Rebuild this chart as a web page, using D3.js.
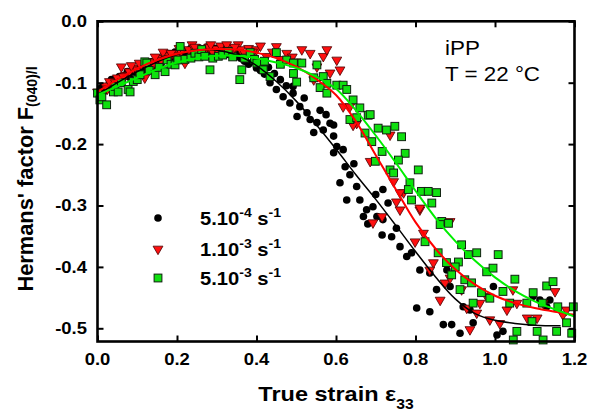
<!DOCTYPE html>
<html><head><meta charset="utf-8">
<script src="https://cdn.jsdelivr.net/npm/d3@7"></script>
<style>body{margin:0;background:#fff}</style>
</head><body><svg id="c" width="589" height="412"></svg>
<script>
// ---------- data ----------
const xTicks = [0, 0.2, 0.4, 0.6, 0.8, 1.0, 1.2];
const yTicks = [0, -0.1, -0.2, -0.3, -0.4, -0.5];
const legendMant = ["5.10", "1.10", "5.10"];
const legendExp = ["-4", "-3", "-3"];

const black = [[0.00,-0.118],[0.01,-0.108],[0.02,-0.112],[0.03,-0.100],[0.04,-0.104],[0.05,-0.094],[0.06,-0.098],[0.07,-0.088],[0.08,-0.091],[0.09,-0.082],[0.10,-0.085],[0.11,-0.077],[0.12,-0.08],[0.13,-0.071],[0.14,-0.074],[0.15,-0.066],[0.16,-0.069],[0.17,-0.061],[0.18,-0.058],[0.19,-0.064],[0.20,-0.055],[0.21,-0.052],[0.22,-0.057],[0.23,-0.05],[0.24,-0.047],[0.25,-0.053],[0.26,-0.045],[0.27,-0.05],[0.28,-0.046],[0.29,-0.052],[0.30,-0.048],[0.31,-0.051],[0.32,-0.046],[0.33,-0.054],[0.34,-0.05],[0.35,-0.057],[0.36,-0.06],[0.37,-0.065],[0.38,-0.07],[0.39,-0.066],[0.40,-0.076],[0.41,-0.08],[0.42,-0.086],[0.434,-0.1],[0.45,-0.111],[0.467,-0.123],[0.492,-0.117],[0.484,-0.133],[0.509,-0.139],[0.527,-0.149],[0.502,-0.155],[0.535,-0.16],[0.552,-0.165],[0.568,-0.177],[0.585,-0.166],[0.594,-0.187],[0.544,-0.181],[0.602,-0.204],[0.492,-0.106],[0.594,-0.169],[0.594,-0.214],[0.618,-0.209],[0.623,-0.237],[0.635,-0.25],[0.61,-0.263],[0.652,-0.269],[0.627,-0.291],[0.66,-0.291],[0.677,-0.307],[0.693,-0.302],[0.669,-0.318],[0.703,-0.318],[0.731,-0.296],[0.718,-0.323],[0.752,-0.337],[0.68,-0.33],[0.716,-0.348],[0.74,-0.351],[0.761,-0.367],[0.778,-0.383],[0.79,-0.377],[0.811,-0.405],[0.836,-0.41],[0.853,-0.437],[0.718,-0.274],[0.879,-0.405],[0.887,-0.432],[0.92,-0.465],[0.937,-0.47],[0.996,-0.432],[1.096,-0.448],[1.113,-0.454],[1.13,-0.465],[1.138,-0.454],[0.803,-0.467],[0.836,-0.473],[0.87,-0.494],[0.891,-0.494],[0.945,-0.491],[0.912,-0.508],[1.005,-0.511],[1.02,-0.505],
  [0.015,-0.115],[0.035,-0.095],[0.055,-0.09],[0.075,-0.082],[0.095,-0.078],[0.115,-0.072],[0.135,-0.066],[0.155,-0.06],[0.175,-0.055],[0.195,-0.05],[0.215,-0.048],[0.235,-0.044],[0.255,-0.043],[0.275,-0.042],[0.295,-0.044],[0.315,-0.043],[0.335,-0.046],[0.355,-0.05],[0.375,-0.055],[0.395,-0.06],[0.415,-0.068],[0.43,-0.075],[0.445,-0.085],[0.46,-0.095],[0.475,-0.105],[0.52,-0.125],[0.56,-0.145],[0.575,-0.152],[0.645,-0.232],[0.7,-0.282]];

const red = [[0.00,-0.115],[0.01,-0.12],[0.02,-0.105],[0.03,-0.098],[0.04,-0.108],[0.05,-0.092],[0.06,-0.074],[0.07,-0.088],[0.08,-0.082],[0.09,-0.076],[0.10,-0.079],[0.11,-0.07],[0.119,-0.092],[0.13,-0.066],[0.14,-0.07],[0.15,-0.06],[0.16,-0.064],[0.17,-0.056],[0.18,-0.06],[0.19,-0.052],[0.20,-0.055],[0.21,-0.049],[0.22,-0.068],[0.23,-0.046],[0.238,-0.038],[0.25,-0.05],[0.26,-0.044],[0.27,-0.048],[0.28,-0.042],[0.29,-0.05],[0.30,-0.045],[0.31,-0.04],[0.32,-0.048],[0.33,-0.043],[0.34,-0.05],[0.354,-0.038],[0.36,-0.046],[0.37,-0.052],[0.38,-0.044],[0.40,-0.046],[0.425,-0.057],[0.45,-0.041],[0.476,-0.052],[0.514,-0.046],[0.535,-0.052],[0.552,-0.074],[0.568,-0.057],[0.577,-0.046],[0.585,-0.084],[0.602,-0.063],[0.61,-0.079],[0.544,-0.095],[0.618,-0.139],[0.635,-0.139],[0.652,-0.166],[0.643,-0.169],[0.736,-0.185],[0.686,-0.228],[0.745,-0.261],[0.77,-0.279],[0.752,-0.294],[0.761,-0.307],[0.811,-0.307],[0.716,-0.318],[0.693,-0.328],[0.887,-0.326],[0.799,-0.359],[0.82,-0.345],[0.845,-0.393],[0.836,-0.405],[0.874,-0.426],[0.862,-0.454],[0.887,-0.418],[0.916,-0.437],[0.929,-0.467],[0.954,-0.475],[0.937,-0.502],[0.962,-0.459],[0.979,-0.448],[0.987,-0.486],[1.012,-0.492],[1.03,-0.47],[1.045,-0.437],[1.055,-0.459],[1.081,-0.483],[1.106,-0.483],[1.121,-0.459],[1.151,-0.44],[1.171,-0.478],[1.18,-0.47],[0.761,-0.279],[0.811,-0.304],
  [0.025,-0.11],[0.045,-0.1],[0.065,-0.09],[0.085,-0.072],[0.105,-0.068],[0.125,-0.075],[0.145,-0.058],[0.165,-0.05],[0.185,-0.052],[0.205,-0.044],[0.245,-0.042],[0.265,-0.052],[0.285,-0.038],[0.305,-0.05],[0.325,-0.038],[0.345,-0.042],[0.39,-0.05],[0.41,-0.04],[0.44,-0.05],[0.46,-0.062],[0.49,-0.058],[0.5,-0.066]];

const green = [[0.00,-0.117],[0.006,-0.128],[0.011,-0.123],[0.023,-0.136],[0.04,-0.115],[0.044,-0.106],[0.052,-0.115],[0.06,-0.1],[0.077,-0.111],[0.082,-0.115],[0.09,-0.098],[0.1,-0.095],[0.107,-0.087],[0.119,-0.066],[0.124,-0.068],[0.13,-0.08],[0.145,-0.087],[0.155,-0.075],[0.17,-0.082],[0.175,-0.063],[0.185,-0.07],[0.195,-0.071],[0.202,-0.063],[0.208,-0.041],[0.22,-0.062],[0.235,-0.06],[0.245,-0.052],[0.255,-0.058],[0.262,-0.046],[0.27,-0.057],[0.283,-0.079],[0.29,-0.06],[0.304,-0.057],[0.315,-0.055],[0.329,-0.049],[0.34,-0.058],[0.358,-0.095],[0.363,-0.079],[0.37,-0.06],[0.384,-0.051],[0.395,-0.062],[0.401,-0.068],[0.417,-0.079],[0.42,-0.065],[0.434,-0.09],[0.45,-0.051],[0.46,-0.07],[0.476,-0.063],[0.493,-0.068],[0.514,-0.068],[0.493,-0.085],[0.552,-0.071],[0.501,-0.099],[0.544,-0.092],[0.568,-0.09],[0.577,-0.101],[0.56,-0.108],[0.602,-0.104],[0.618,-0.104],[0.627,-0.111],[0.577,-0.117],[0.643,-0.128],[0.66,-0.141],[0.681,-0.153],[0.635,-0.16],[0.652,-0.157],[0.706,-0.174],[0.727,-0.177],[0.748,-0.171],[0.765,-0.188],[0.673,-0.182],[0.686,-0.152],[0.69,-0.196],[0.716,-0.212],[0.774,-0.215],[0.757,-0.226],[0.699,-0.228],[0.807,-0.242],[0.736,-0.242],[0.745,-0.247],[0.786,-0.263],[0.782,-0.274],[0.815,-0.277],[0.832,-0.277],[0.853,-0.279],[0.79,-0.291],[0.841,-0.296],[0.866,-0.326],[0.883,-0.329],[0.862,-0.331],[0.824,-0.359],[0.916,-0.364],[0.933,-0.38],[0.954,-0.377],[1.008,-0.38],[0.857,-0.377],[0.878,-0.393],[0.908,-0.392],[0.9,-0.4],[0.979,-0.408],[0.995,-0.402],[0.891,-0.413],[0.924,-0.421],[1.05,-0.42],[0.912,-0.437],[0.941,-0.426],[0.987,-0.451],[1.02,-0.44],[1.037,-0.459],[1.096,-0.442],[1.119,-0.459],[1.13,-0.431],[1.146,-0.424],[1.158,-0.465],[1.197,-0.465],[1.093,-0.489],[1.18,-0.491],[1.055,-0.505],[1.046,-0.519],[1.106,-0.505],[1.121,-0.519],[1.155,-0.505],[1.193,-0.508],[0.966,-0.442],[0.945,-0.459],[1.08,-0.459]];

const fitBlack = [[0,-0.12],[0.05,-0.1],[0.1,-0.082],[0.15,-0.066],[0.2,-0.054],[0.25,-0.047],[0.3,-0.047],[0.35,-0.055],[0.4,-0.072],[0.45,-0.098],[0.5,-0.13],[0.55,-0.168],[0.6,-0.208],[0.65,-0.25],[0.7,-0.29],[0.75,-0.332],[0.8,-0.375],[0.85,-0.416],[0.9,-0.452],[0.95,-0.476],[1.0,-0.487],[1.05,-0.492],[1.1,-0.495],[1.165,-0.496]];
const fitRed = [[0,-0.115],[0.05,-0.095],[0.1,-0.077],[0.15,-0.063],[0.2,-0.053],[0.25,-0.047],[0.3,-0.045],[0.35,-0.046],[0.4,-0.051],[0.45,-0.06],[0.5,-0.074],[0.55,-0.094],[0.6,-0.12],[0.65,-0.163],[0.7,-0.218],[0.75,-0.273],[0.8,-0.327],[0.85,-0.37],[0.9,-0.404],[0.95,-0.429],[1.0,-0.447],[1.05,-0.459],[1.1,-0.467],[1.15,-0.473],[1.2,-0.478]];
const fitGreen = [[0,-0.12],[0.05,-0.106],[0.1,-0.092],[0.15,-0.078],[0.2,-0.067],[0.25,-0.06],[0.3,-0.056],[0.35,-0.056],[0.4,-0.06],[0.45,-0.067],[0.5,-0.076],[0.55,-0.09],[0.6,-0.11],[0.65,-0.145],[0.7,-0.186],[0.75,-0.23],[0.8,-0.276],[0.85,-0.32],[0.9,-0.358],[0.95,-0.39],[1.0,-0.417],[1.05,-0.439],[1.1,-0.456],[1.15,-0.469],[1.2,-0.481]];

// ---------- chart ----------
const svg = d3.select("#c");
const SX = 1.12; // horizontal stretch of the original text
const FONT = "Arial, 'Liberation Sans', Helvetica, sans-serif";
const x = d3.scaleLinear().domain([0, 1.2]).range([97.5, 574.5]);
const y = d3.scaleLinear().domain([-0.5215, 0]).range([341.5, 21.3]);

const triDown = d3.symbol().type(d3.symbolTriangle).size(42)();
const styles = [
  {draw: (g) => g.append("circle").attr("r", 3.8).attr("fill", "#000")},
  {draw: (g) => g.append("path").attr("d", triDown).attr("transform", "rotate(180)").attr("fill", "#ff1010").attr("stroke", "#4a0000").attr("stroke-width", 0.8)},
  {draw: (g) => g.append("rect").attr("x", -3.9).attr("y", -3.9).attr("width", 7.8).attr("height", 7.8).attr("fill", "#10e010").attr("stroke", "#102010").attr("stroke-width", 1)}
];
const allSeries = [black, red, green];
allSeries.forEach((data, i) => {
  const g = svg.append("g");
  g.selectAll("g").data(data).join("g")
    .attr("transform", d => `translate(${x(d[0])},${y(d[1])})`)
    .each(function() { styles[i].draw(d3.select(this)); });
});

const line = d3.line().x(d => x(d[0])).y(d => y(d[1])).curve(d3.curveCatmullRom);
[[fitBlack, "#000", 1.5], [fitRed, "#ff0000", 2], [fitGreen, "#00ee00", 2]].forEach(([d, c, w]) => {
  svg.append("path").attr("d", line(d)).attr("fill", "none").attr("stroke", c).attr("stroke-width", w);
});

// frame and ticks
const [x0, x1] = x.range(), [y0, y1] = y.range();
svg.append("rect").attr("x", x0).attr("y", y1).attr("width", x1 - x0).attr("height", y0 - y1)
  .attr("fill", "none").attr("stroke", "#000").attr("stroke-width", 2.6);
const tk = 6;
svg.append("g").attr("transform", `translate(0,${y0})`).call(d3.axisBottom(x).tickValues(xTicks).tickSize(-tk).tickFormat("")).call(g => g.select(".domain").remove());
svg.append("g").attr("transform", `translate(0,${y1})`).call(d3.axisTop(x).tickValues(xTicks).tickSize(-tk).tickFormat("")).call(g => g.select(".domain").remove());
svg.append("g").attr("transform", `translate(${x0},0)`).call(d3.axisLeft(y).tickValues(yTicks).tickSize(-tk).tickFormat("")).call(g => g.select(".domain").remove());
svg.append("g").attr("transform", `translate(${x1},0)`).call(d3.axisRight(y).tickValues(yTicks).tickSize(-tk).tickFormat("")).call(g => g.select(".domain").remove());
svg.selectAll(".tick line").attr("stroke-width", 2);

function txt(px, py, size, weight, anchor) {
  return svg.append("text").attr("transform", `translate(${px},${py}) scale(${SX},1)`)
    .attr("font-family", FONT).attr("font-size", size).attr("font-weight", weight).attr("text-anchor", anchor).attr("fill", "#000");
}
xTicks.forEach(v => txt(x(v), 365, 16.5, "bold", "middle").text(v.toFixed(1)));
yTicks.forEach(v => txt(87, y(v) + 6, 16.5, "bold", "end").text(v.toFixed(1)));

// x label
const xl = txt(336, 401, 21, "bold", "middle");
xl.append("tspan").text("True strain ε");
xl.append("tspan").attr("font-size", 14).attr("dy", 8).text("33");

// y label
const yl = svg.append("text").attr("transform", `translate(33,179) rotate(-90) scale(${SX},${SX})`)
  .attr("font-family", FONT).attr("font-size", 19.5).attr("font-weight", "bold").attr("text-anchor", "middle");
yl.append("tspan").text("Hermans' factor F");
yl.append("tspan").attr("font-size", 12.5).attr("dy", 4).text("(040)/l");

// annotation
txt(445, 55, 20, "normal", "start").text("iPP");
txt(445, 81, 20, "normal", "start").text("T = 22 °C");

// legend
const legY = [218, 249, 278];
legendMant.forEach((m, i) => {
  const g = svg.append("g").attr("transform", `translate(158,${legY[i]})`);
  styles[i].draw(g);
  const t = txt(200, legY[i] + 7, 18, "bold", "start");
  t.append("tspan").text(m);
  t.append("tspan").attr("font-size", 12.5).attr("dy", -8).text(legendExp[i]);
  t.append("tspan").attr("dy", 8).text(" s");
  t.append("tspan").attr("font-size", 12.5).attr("dy", -8).text("-1");
});
</script></body></html>
